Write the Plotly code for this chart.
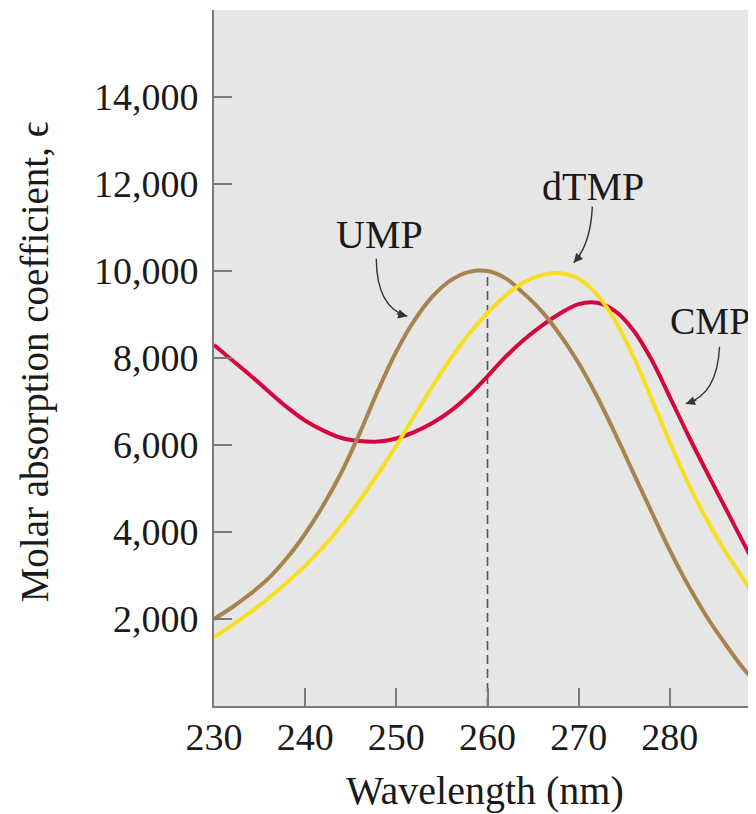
import plotly.graph_objects as go

# ---- data ----
wavelength = [230, 232, 234, 236, 238, 240, 242, 244, 246, 248, 250, 252, 254, 256, 258,
              260, 262, 264, 266, 268, 270, 272, 274, 276, 278, 280, 282, 284, 286, 288, 290]
cmp_eps = [8300, 7950, 7600, 7230, 6870, 6560, 6330, 6160, 6090, 6080, 6150, 6300, 6510, 6790, 7150,
           7580, 8030, 8420, 8750, 9030, 9240, 9270, 9080, 8640, 7960, 7100, 6230, 5400, 4590, 3780, 2980]
ump_eps = [2000, 2270, 2580, 2940, 3400, 3960, 4620, 5380, 6280, 7260, 8150, 8870, 9420, 9790, 9980,
           10000, 9830, 9480, 9060, 8520, 7880, 7120, 6260, 5360, 4460, 3580, 2780, 2070, 1450, 880, 400]
dtmp_eps = [1580, 1860, 2160, 2480, 2840, 3220, 3660, 4160, 4730, 5340, 5990, 6680, 7360, 8000, 8560,
            9040, 9440, 9740, 9910, 9950, 9820, 9460, 8860, 8030, 7060, 6060, 5120, 4300, 3580, 2940, 2300]

x_ticks = [230, 240, 250, 260, 270, 280]
y_ticks = [2000, 4000, 6000, 8000, 10000, 12000, 14000, 16000]
y_tick_text = ["2,000", "4,000", "6,000", "8,000", "10,000", "12,000", "14,000", ""]

ump_peak_nm = 260
ump_peak_eps = 10000

labels = ["UMP", "dTMP", "CMP"]
label_x = [248.2, 271.6, 284.4]
label_y = [10850, 11950, 8850]
label_size = [40, 40, 38]
# curved arrows: start, control, end (data coords)
arrow_start = [(247.8, 10280), (271.5, 11480), (285.45, 8260)]
arrow_ctrl = [(247.85, 9150), (271.3, 10600), (285.2, 7150)]
arrow_end = [(251.2, 8960), (269.45, 10190), (281.75, 6950)]
arrow_tail_px = [(-12, -3), (8, -9), (12, -4)]

FONT = "Liberation Serif"
RED = "#d5063f"
BROWN = "#a8834e"
YELLOW = "#f7df1e"
AXIS = "#7a7a7a"
TEXT = "#1a1a1a"

fig = go.Figure()
fig.add_trace(go.Scatter(x=wavelength, y=cmp_eps, mode="lines", name="CMP",
                         line=dict(color=RED, width=4, shape="spline", smoothing=1)))
fig.add_trace(go.Scatter(x=wavelength, y=ump_eps, mode="lines", name="UMP",
                         line=dict(color=BROWN, width=4, shape="spline", smoothing=1)))
fig.add_trace(go.Scatter(x=wavelength, y=dtmp_eps, mode="lines", name="dTMP",
                         line=dict(color=YELLOW, width=4, shape="spline", smoothing=1)))

shapes = [dict(type="line", xref="x", yref="y", x0=ump_peak_nm, x1=ump_peak_nm,
               y0=0, y1=ump_peak_eps, line=dict(color="#555555", width=1.6, dash="9px,5px"),
               layer="below")]
annotations = []
for i, lab in enumerate(labels):
    annotations.append(dict(x=label_x[i], y=label_y[i], xref="x", yref="y", text=lab,
                            showarrow=False, font=dict(family=FONT, size=label_size[i], color=TEXT),
                            xanchor="center", yanchor="middle"))
    (sx, sy), (cx, cy), (ex, ey) = arrow_start[i], arrow_ctrl[i], arrow_end[i]
    shapes.append(dict(type="path", xref="x", yref="y",
                       path=f"M {sx},{sy} Q {cx},{cy} {ex},{ey}",
                       line=dict(color="#333333", width=1.4)))
    annotations.append(dict(x=ex, y=ey, xref="x", yref="y", ax=arrow_tail_px[i][0],
                            ay=arrow_tail_px[i][1], axref="pixel", ayref="pixel", text="",
                            showarrow=True, arrowhead=2, arrowsize=1.3, arrowwidth=1.4,
                            arrowcolor="#333333"))

annotations.append(dict(x=0.5, y=-0.121, xref="paper", yref="paper", text="Wavelength (nm)",
                        showarrow=False, font=dict(family=FONT, size=40, color=TEXT),
                        xanchor="center", yanchor="middle"))
annotations.append(dict(x=-0.33, y=0.494, xref="paper", yref="paper",
                        text="Molar absorption coefficient, ϵ", textangle=-90,
                        showarrow=False, font=dict(family=FONT, size=39, color=TEXT),
                        xanchor="center", yanchor="middle"))

# page body adds an 8px offset; margins compensate so the plot sits where the reference has it
fig.update_layout(
    width=748, height=806,
    margin=dict(l=206, r=0, t=2, b=108),
    paper_bgcolor="white", plot_bgcolor="#e6e6e6",
    showlegend=False,
    shapes=shapes, annotations=annotations,
    font=dict(family=FONT, size=38, color=TEXT),
)
fig.update_xaxes(range=[230, 289.45], tickvals=x_ticks, ticks="inside", ticklen=18,
                 tickwidth=2, tickcolor=AXIS, showline=True, linecolor=AXIS, linewidth=2,
                 showgrid=False, zeroline=False, ticklabelstandoff=-4,
                 tickfont=dict(family=FONT, size=38, color=TEXT))
fig.update_yaxes(range=[0, 16000], tickvals=y_ticks, ticktext=y_tick_text, ticks="inside",
                 ticklen=18, tickwidth=2, tickcolor=AXIS, showline=True, linecolor=AXIS,
                 linewidth=2, showgrid=False, zeroline=False, ticklabelstandoff=6,
                 tickfont=dict(family=FONT, size=38, color=TEXT))

fig.write_html("out.html")
